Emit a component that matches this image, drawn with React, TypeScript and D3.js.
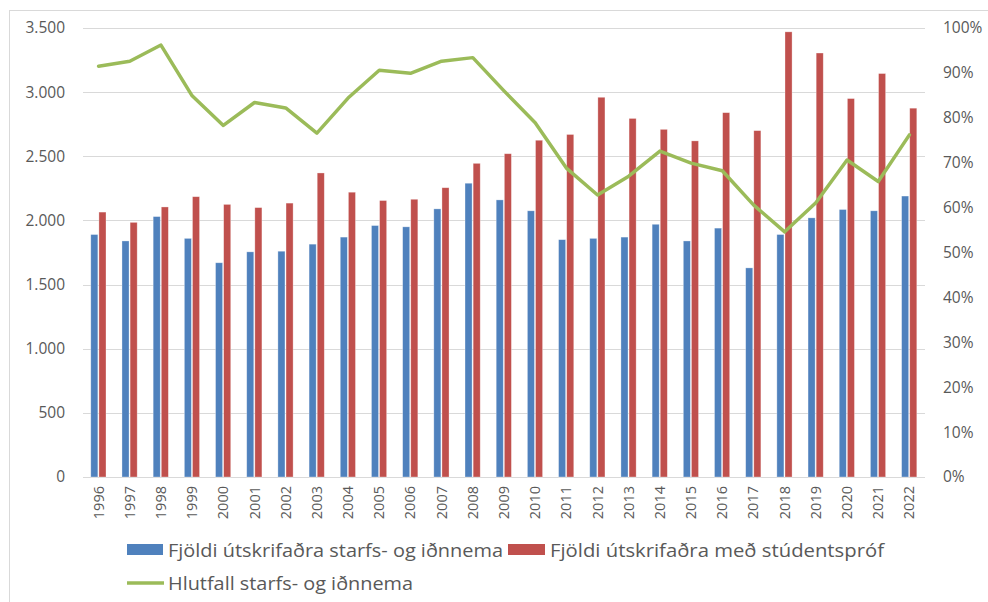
import React, { useMemo } from 'react';
import * as d3 from 'd3';

const YEARS = ['1996', '1997', '1998', '1999', '2000', '2001', '2002', '2003', '2004', '2005', '2006', '2007', '2008', '2009', '2010', '2011', '2012', '2013', '2014', '2015', '2016', '2017', '2018', '2019', '2020', '2021', '2022'];
const IDNNEMAR = [1890, 1840, 2030, 1860, 1670, 1755, 1760, 1815, 1870, 1960, 1950, 2090, 2290, 2160, 2075, 1850, 1860, 1870, 1970, 1840, 1940, 1630, 1890, 2020, 2085, 2075, 2190];
const STUDENTAR = [2065, 1985, 2105, 2185, 2125, 2100, 2135, 2370, 2220, 2155, 2165, 2255, 2445, 2520, 2625, 2670, 2960, 2795, 2710, 2620, 2840, 2700, 3470, 3305, 2950, 3145, 2875];
const HLUTFALL = [0.915, 0.926, 0.962, 0.849, 0.783, 0.834, 0.822, 0.766, 0.844, 0.906, 0.899, 0.926, 0.934, 0.86, 0.789, 0.688, 0.628, 0.67, 0.726, 0.699, 0.682, 0.606, 0.546, 0.611, 0.706, 0.658, 0.762];
const LEFT_TICKS = [0, 500, 1000, 1500, 2000, 2500, 3000, 3500];
const RIGHT_TICKS = [0, 0.1, 0.2, 0.3, 0.4, 0.5, 0.6, 0.7, 0.8, 0.9, 1];
const LEGEND = ['Fjöldi útskrifaðra starfs- og iðnnema', 'Fjöldi útskrifaðra með stúdentspróf', 'Hlutfall starfs- og iðnnema'];

const BLUE = '#4f81bd';
const RED = '#c0504d';
const GREEN = '#9bbb59';
const GRID = '#d9d9d9';
const TXT = '#595959';
const FONT = '"Open Sans", "DejaVu Sans", sans-serif';

const W = 988;
const H = 602;
const M = { left: 83, right: 925, top: 28, bottom: 477 };

const fmt = d3.formatLocale({ decimal: ',', thousands: '.', grouping: [3], currency: ['', ' kr.'] }).format(',d');

export default function App() {
	const x = useMemo(() => d3.scaleBand<string>().domain(YEARS).range([M.left, M.right]), []);
	const yL = useMemo(() => d3.scaleLinear().domain([0, 3500]).range([M.bottom, M.top]), []);
	const yR = useMemo(() => d3.scaleLinear().domain([0, 1]).range([M.bottom, M.top]), []);
	const sub = useMemo(() => d3.scaleBand<string>().domain(['a', 'b']).range([-7.8, 7.4]).paddingInner(0.13), []);

	const linePath = useMemo(() => {
		const gen = d3.line<number>()
			.x((_, i) => (x(YEARS[i]) as number) + x.bandwidth() / 2)
			.y((d) => yR(d));
		return gen(HLUTFALL);
	}, [x, yR]);

	const cx = (yr: string) => (x(yr) as number) + x.bandwidth() / 2;

	return (
		<>
			<style>{'body{margin:0}'}</style>
			<svg width={W} height={H} style={{ display: 'block', fontFamily: FONT }}>
				<rect x={0} y={0} width={W} height={H} fill="#fff" />
				<rect x={9.5} y={10.5} width={990} height={600} fill="none" stroke={GRID} />

				{/* gridlines */}
				{LEFT_TICKS.map((t) => (
					<line key={t} x1={M.left} x2={M.right} y1={Math.round(yL(t)) + 0.5} y2={Math.round(yL(t)) + 0.5} stroke={GRID} strokeWidth={1} />
				))}

				{/* left axis labels */}
				{LEFT_TICKS.map((t) => (
					<text key={t} x={65} y={yL(t)} dy="0.35em" textAnchor="end" fontSize={15.5} fill={TXT}>
						{fmt(t)}
					</text>
				))}

				{/* right axis labels */}
				{RIGHT_TICKS.map((t) => (
					<text key={t} x={943} y={yR(t)} dy="0.35em" textAnchor="start" fontSize={15.5} fill={TXT}>
						{`${Math.round(t * 100)}%`}
					</text>
				))}

				{/* bars */}
				{YEARS.map((yr, i) => (
					<g key={yr} transform={`translate(${cx(yr)},0)`}>
						<rect x={sub('a')} y={yL(IDNNEMAR[i])} width={sub.bandwidth()} height={yL(0) - yL(IDNNEMAR[i])} fill={BLUE} stroke="#fff" strokeOpacity={0.45} strokeWidth={0.7} />
						<rect x={sub('b')} y={yL(STUDENTAR[i])} width={sub.bandwidth()} height={yL(0) - yL(STUDENTAR[i])} fill={RED} stroke="#fff" strokeOpacity={0.45} strokeWidth={0.7} />
					</g>
				))}

				{/* line */}
				<path d={linePath || ''} fill="none" stroke={GREEN} strokeWidth={3.5} strokeLinejoin="round" strokeLinecap="round" />

				{/* year labels */}
				{YEARS.map((yr) => (
					<text key={yr} transform={`translate(${cx(yr) + 5},${M.bottom + 9}) rotate(-90)`} textAnchor="end" fontSize={14.5} fill={TXT}>
						{yr}
					</text>
				))}

				{/* legend */}
				<rect x={127} y={544} width={36} height={11} fill={BLUE} />
				<text x={168} y={557} fontSize={19} fill={TXT} textLength={335} lengthAdjust="spacingAndGlyphs">{LEGEND[0]}</text>
				<rect x={508} y={544} width={37} height={11} fill={RED} />
				<text x={550} y={557} fontSize={19} fill={TXT} textLength={334} lengthAdjust="spacingAndGlyphs">{LEGEND[1]}</text>
				<line x1={127} x2={164} y1={583} y2={583} stroke={GREEN} strokeWidth={3.5} />
				<text x={168} y={590} fontSize={19} fill={TXT} textLength={245} lengthAdjust="spacingAndGlyphs">{LEGEND[2]}</text>
			</svg>
		</>
	);
}
